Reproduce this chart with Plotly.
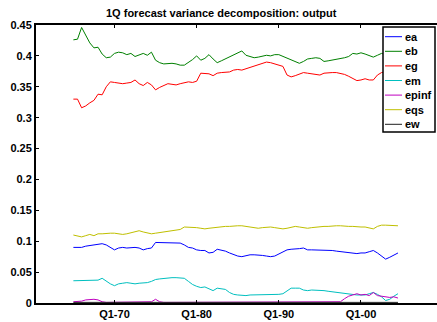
import numpy as np
import plotly.graph_objects as go

# Half-yearly observation dates, 1965 through 2004
dates = np.arange(1965.0, 2005.0, 0.5)

names = ["ea", "eb", "eg", "em", "epinf", "eqs", "ew"]
colors = ["#0000ff", "#008000", "#ff0000", "#00bfbf", "#bf00bf", "#bfbf00", "#202020"]

ea = [0.090, 0.090, 0.090, 0.092, 0.093, 0.094, 0.095, 0.096, 0.094, 0.090,
      0.086, 0.089, 0.090, 0.089, 0.090, 0.090, 0.089, 0.086, 0.088, 0.089,
      0.098, 0.098, 0.098, 0.098, 0.097, 0.097, 0.097, 0.094, 0.090, 0.089,
      0.086, 0.085, 0.085, 0.081, 0.082, 0.087, 0.086, 0.084, 0.081, 0.078,
      0.076, 0.075, 0.077, 0.078, 0.078, 0.078, 0.077, 0.076, 0.075, 0.076,
      0.079, 0.082, 0.086, 0.087, 0.087, 0.088, 0.089, 0.086, 0.086, 0.086,
      0.086, 0.086, 0.085, 0.085, 0.084, 0.083, 0.083, 0.082, 0.080, 0.080,
      0.081, 0.081, 0.083, 0.085, 0.081, 0.076, 0.071, 0.074, 0.078, 0.081]

eb = [0.426, 0.427, 0.446, 0.434, 0.421, 0.413, 0.414, 0.403, 0.397, 0.398,
      0.404, 0.406, 0.405, 0.402, 0.404, 0.399, 0.402, 0.404, 0.401, 0.406,
      0.393, 0.389, 0.387, 0.388, 0.388, 0.387, 0.385, 0.385, 0.389, 0.394,
      0.400, 0.393, 0.396, 0.402, 0.395, 0.389, 0.392, 0.395, 0.398, 0.402,
      0.405, 0.408, 0.401, 0.399, 0.397, 0.398, 0.400, 0.401, 0.400, 0.402,
      0.402, 0.399, 0.397, 0.394, 0.391, 0.388, 0.391, 0.395, 0.396, 0.397,
      0.396, 0.391, 0.392, 0.393, 0.394, 0.395, 0.397, 0.399, 0.404, 0.403,
      0.405, 0.403, 0.401, 0.398, 0.401, 0.404, 0.402, 0.403, 0.404, 0.405]

eg = [0.330, 0.330, 0.316, 0.319, 0.324, 0.328, 0.338, 0.337, 0.350, 0.358,
      0.357, 0.356, 0.355, 0.356, 0.357, 0.361, 0.355, 0.352, 0.357, 0.353,
      0.345, 0.349, 0.352, 0.355, 0.354, 0.353, 0.355, 0.357, 0.358, 0.357,
      0.359, 0.372, 0.371, 0.371, 0.368, 0.372, 0.373, 0.373, 0.374, 0.377,
      0.378, 0.377, 0.379, 0.381, 0.383, 0.385, 0.388, 0.390, 0.389, 0.387,
      0.385, 0.383, 0.369, 0.366, 0.368, 0.370, 0.373, 0.372, 0.371, 0.370,
      0.369, 0.372, 0.373, 0.373, 0.373, 0.372, 0.370, 0.367, 0.363, 0.360,
      0.361, 0.363, 0.361, 0.361, 0.369, 0.373, 0.374, 0.375, 0.374, 0.376]

em = [0.036, 0.036, 0.036, 0.037, 0.037, 0.037, 0.037, 0.040, 0.035, 0.031,
      0.028, 0.031, 0.032, 0.033, 0.032, 0.031, 0.032, 0.032, 0.033, 0.035,
      0.038, 0.039, 0.040, 0.040, 0.041, 0.041, 0.041, 0.040, 0.035, 0.030,
      0.027, 0.025, 0.026, 0.023, 0.020, 0.024, 0.023, 0.022, 0.017, 0.014,
      0.013, 0.012, 0.012, 0.013, 0.013, 0.013, 0.013, 0.013, 0.013, 0.014,
      0.014, 0.015, 0.019, 0.024, 0.024, 0.024, 0.021, 0.020, 0.021, 0.021,
      0.020, 0.020, 0.019, 0.018, 0.018, 0.017, 0.016, 0.015, 0.013, 0.013,
      0.013, 0.013, 0.015, 0.017, 0.014, 0.010, 0.004, 0.006, 0.011, 0.015]

epinf = [0.002, 0.002, 0.003, 0.005, 0.006, 0.006, 0.005, 0.002, 0.001, 0.001,
         0.002, 0.001, 0.001, 0.001, 0.002, 0.001, 0.001, 0.001, 0.002, 0.002,
         0.006, 0.002, 0.001, 0.001, 0.001, 0.001, 0.001, 0.001, 0.001, 0.001,
         0.001, 0.002, 0.002, 0.001, 0.001, 0.001, 0.001, 0.001, 0.001, 0.001,
         0.001, 0.001, 0.001, 0.001, 0.001, 0.001, 0.001, 0.001, 0.001, 0.001,
         0.001, 0.001, 0.001, 0.001, 0.001, 0.001, 0.001, 0.001, 0.001, 0.001,
         0.001, 0.001, 0.001, 0.001, 0.001, 0.002, 0.007, 0.011, 0.013, 0.015,
         0.013, 0.014, 0.012, 0.017, 0.012, 0.011, 0.010, 0.009, 0.010, 0.008]

eqs = [0.110, 0.109, 0.107, 0.109, 0.111, 0.109, 0.112, 0.112, 0.113, 0.113,
       0.113, 0.112, 0.111, 0.112, 0.114, 0.115, 0.117, 0.115, 0.113, 0.112,
       0.113, 0.114, 0.115, 0.115, 0.116, 0.117, 0.119, 0.123, 0.123, 0.123,
       0.122, 0.121, 0.120, 0.121, 0.122, 0.122, 0.123, 0.124, 0.124, 0.125,
       0.125, 0.125, 0.124, 0.122, 0.121, 0.121, 0.122, 0.123, 0.123, 0.122,
       0.121, 0.120, 0.121, 0.123, 0.124, 0.123, 0.122, 0.121, 0.122, 0.123,
       0.124, 0.124, 0.124, 0.125, 0.125, 0.125, 0.124, 0.124, 0.124, 0.123,
       0.123, 0.123, 0.122, 0.120, 0.124, 0.126, 0.126, 0.126, 0.125, 0.125]

ew = [0.001, 0.001, 0.001, 0.001, 0.001, 0.001, 0.001, 0.001, 0.001, 0.001,
      0.001, 0.001, 0.001, 0.001, 0.001, 0.001, 0.001, 0.001, 0.001, 0.001,
      0.001, 0.001, 0.001, 0.001, 0.001, 0.001, 0.001, 0.001, 0.001, 0.001,
      0.001, 0.001, 0.001, 0.001, 0.001, 0.001, 0.001, 0.001, 0.001, 0.001,
      0.001, 0.001, 0.001, 0.001, 0.001, 0.001, 0.001, 0.001, 0.001, 0.001,
      0.001, 0.001, 0.001, 0.001, 0.001, 0.001, 0.001, 0.001, 0.001, 0.001,
      0.001, 0.001, 0.001, 0.001, 0.001, 0.001, 0.001, 0.001, 0.001, 0.001,
      0.001, 0.001, 0.001, 0.001, 0.001, 0.001, 0.001, 0.001, 0.001, 0.001]

series = [ea, eb, eg, em, epinf, eqs, ew]

x_tickvals = [1970, 1980, 1990, 2000]
x_ticktext = ["Q1-70", "Q1-80", "Q1-90", "Q1-00"]
y_tickvals = [0, 0.05, 0.1, 0.15, 0.2, 0.25, 0.3, 0.35, 0.4, 0.45]
y_ticktext = ["0", "0.05", "0.1", "0.15", "0.2", "0.25", "0.3", "0.35", "0.4", "0.45"]

W, H = 437, 322
ML, MR, MT, MB = 36, 0, 25, 19
FONT = dict(family="Liberation Sans, Arial, sans-serif", size=11, color="black")
Y_RANGE = [0, 0.45]

fig = go.Figure()
for name, col, vals in zip(names, colors, series):
    fig.add_trace(go.Scatter(x=dates, y=vals, mode="lines", name=name,
                             line=dict(color=col, width=1), showlegend=False))

tick_style = dict(showgrid=False, zeroline=False, ticks="inside", ticklen=3,
                  tickcolor="black", tickwidth=1,
                  tickfont=dict(FONT, weight="bold"))
fig.update_xaxes(range=[1960.45, 2009.25], tickvals=x_tickvals, ticktext=x_ticktext,
                 showline=True, linecolor="black", linewidth=2, mirror="ticks",
                 **tick_style)
fig.update_yaxes(range=Y_RANGE, tickvals=y_tickvals, ticktext=y_ticktext,
                 showline=True, linecolor="black", linewidth=2, **tick_style)
# right-hand tick marks only (the right border falls just outside the frame)
fig.update_layout(yaxis2=dict(overlaying="y", side="right", range=Y_RANGE,
                              tickvals=y_tickvals, showticklabels=False,
                              showline=False, **{k: v for k, v in tick_style.items()
                                                 if k != "tickfont"}))

# pixel -> paper coordinate helpers for the legend box
pw, ph = W - ML - MR, H - MT - MB
px = lambda x: (x - ML) / pw
py = lambda y: 1 - (y - MT) / ph

shapes = [dict(type="rect", xref="paper", yref="paper", layer="above",
               x0=px(383), x1=px(435), y0=py(132), y1=py(27),
               line=dict(color="black", width=1.5), fillcolor="white")]
annotations = []
for i, (name, col) in enumerate(zip(names, colors)):
    yy = 36.7 + i * 14.6
    shapes.append(dict(type="line", xref="paper", yref="paper", layer="above",
                       x0=px(385), x1=px(402), y0=py(yy), y1=py(yy),
                       line=dict(color=col, width=1)))
    annotations.append(dict(xref="paper", yref="paper", x=px(402.5), y=py(yy),
                            xanchor="left", yanchor="middle", showarrow=False,
                            text=name, font=dict(FONT, weight="bold")))

annotations.append(dict(xref="paper", yref="paper", x=px(221), y=py(12.5),
                        xanchor="center", yanchor="middle", showarrow=False,
                        text="1Q forecast variance decomposition: output",
                        font=dict(FONT, weight="bold")))

fig.update_layout(width=W, height=H, margin=dict(l=ML, r=MR, t=MT, b=MB),
                  paper_bgcolor="white", plot_bgcolor="white",
                  shapes=shapes, annotations=annotations, font=FONT)

fig.write_html("out.html")
